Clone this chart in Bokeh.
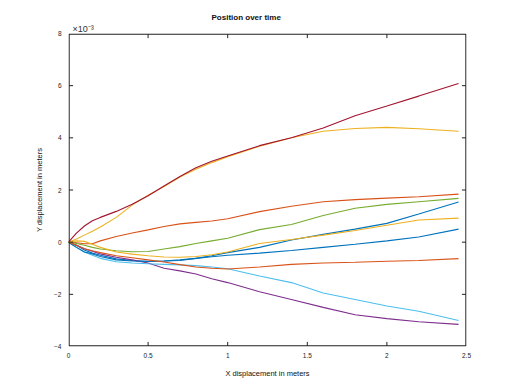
from bokeh.plotting import figure
from bokeh.models import LinearAxis, FixedTicker, Range1d, Title
from bokeh.embed import file_html
from bokeh.resources import INLINE

# X displacement (m), shared sample positions
x_m = [0, 0.05, 0.1, 0.15, 0.2, 0.3, 0.4, 0.5, 0.6, 0.7, 0.8, 0.9, 1.0, 1.2, 1.4, 1.6, 1.8, 2.0, 2.2, 2.45]

# Y displacement in units of 10^-3 m
y_blue1   = [0, -0.12, -0.3, -0.42, -0.5, -0.64, -0.7, -0.73, -0.72, -0.7, -0.62, -0.52, -0.4, -0.2, 0.08, 0.3, 0.5, 0.72, 1.08, 1.54]
y_orange1 = [0, -0.02, -0.06, -0.06, 0.05, 0.22, 0.35, 0.47, 0.6, 0.7, 0.76, 0.81, 0.9, 1.17, 1.38, 1.55, 1.63, 1.69, 1.74, 1.84]
y_yellow1 = [0, 0.12, 0.27, 0.42, 0.58, 0.95, 1.42, 1.8, 2.13, 2.5, 2.8, 3.05, 3.28, 3.68, 4.0, 4.25, 4.36, 4.4, 4.35, 4.25]
y_purple  = [0, -0.12, -0.25, -0.35, -0.45, -0.58, -0.68, -0.8, -1.0, -1.1, -1.22, -1.4, -1.55, -1.9, -2.2, -2.5, -2.78, -2.93, -3.05, -3.15]
y_green   = [0, -0.05, -0.12, -0.2, -0.26, -0.33, -0.37, -0.36, -0.26, -0.17, -0.05, 0.05, 0.15, 0.48, 0.68, 1.02, 1.3, 1.45, 1.55, 1.68]
y_cyan    = [0, -0.2, -0.38, -0.5, -0.62, -0.75, -0.8, -0.83, -0.85, -0.87, -0.9, -0.95, -1.02, -1.3, -1.55, -1.95, -2.2, -2.45, -2.65, -3.0]
y_darkred = [0, 0.35, 0.62, 0.82, 0.95, 1.18, 1.45, 1.78, 2.15, 2.52, 2.85, 3.1, 3.3, 3.7, 4.0, 4.38, 4.85, 5.22, 5.6, 6.08]
y_blue2   = [0, -0.2, -0.38, -0.45, -0.55, -0.68, -0.72, -0.74, -0.72, -0.68, -0.62, -0.56, -0.5, -0.42, -0.32, -0.2, -0.08, 0.05, 0.2, 0.5]
y_orange2 = [0, -0.12, -0.25, -0.33, -0.4, -0.52, -0.6, -0.68, -0.76, -0.86, -0.95, -1.0, -1.03, -0.95, -0.85, -0.8, -0.77, -0.73, -0.7, -0.63]
y_yellow2 = [0, 0.05, 0.03, -0.08, -0.2, -0.38, -0.46, -0.52, -0.57, -0.58, -0.55, -0.48, -0.38, -0.05, 0.1, 0.27, 0.45, 0.65, 0.85, 0.92]

series = [y_blue1, y_orange1, y_yellow1, y_purple, y_green, y_cyan, y_darkred, y_blue2, y_orange2, y_yellow2]
colors = ["#0072BD", "#D95319", "#EDB120", "#7E2F8E", "#77AC30", "#4DBEEE", "#A2142F", "#0072BD", "#D95319", "#EDB120"]

x_ticks = [0, 0.5, 1, 1.5, 2, 2.5]
y_ticks = [-4, -2, 0, 2, 4, 6, 8]

title_text = "Position over time"
scale_text = "×10⁻³"
xlabel_text = "X displacement in meters"
ylabel_text = "Y displacement in meters"

FONT = "Liberation Sans"
FW, FH = 398, 313
X0, X1 = x_ticks[0], x_ticks[-1]
Y0, Y1 = y_ticks[0], y_ticks[-1]
INK = "#222222"
px_x = (X1 - X0) / FW   # one screen pixel in x data units
px_y = (Y1 - Y0) / FH   # one screen pixel in y data units

p = figure(frame_width=FW, frame_height=FH,
           x_range=Range1d(X0, X1), y_range=Range1d(Y0, Y1),
           output_backend="svg", toolbar_location=None,
           min_border_left=68, min_border_top=33, min_border_right=38, min_border_bottom=40,
           background_fill_color=None, border_fill_color=None)
p.outline_line_color = None
p.grid.visible = False
p.xaxis.visible = False
p.yaxis.visible = False

for ys, c in zip(series, colors):
    p.line(x_m, ys, line_color=c, line_width=1.1)

# axes box, drawn just inside the frame
bx0, bx1 = X0 + 0.6 * px_x, X1 - 0.6 * px_x
by0, by1 = Y0 + 0.6 * px_y, Y1 - 0.6 * px_y
p.line([bx0, bx1, bx1, bx0, bx0], [by0, by0, by1, by1, by0], line_color=INK, line_width=1.2)

# inward ticks on all four sides
tick_xs, tick_ys = [], []
for t in x_ticks[1:-1]:
    tick_xs += [[t, t], [t, t]]
    tick_ys += [[by0, by0 + 4 * px_y], [by1, by1 - 4 * px_y]]
for t in y_ticks[1:-1]:
    tick_xs += [[bx0, bx0 + 4 * px_x], [bx1, bx1 - 4 * px_x]]
    tick_ys += [[t, t], [t, t]]
p.multi_line(tick_xs, tick_ys, line_color=INK, line_width=1)

def style(ax):
    ax.axis_line_color = None
    ax.major_tick_line_color = None
    ax.minor_tick_line_color = None
    ax.major_tick_in = 0
    ax.major_tick_out = 0
    ax.major_label_text_font = FONT
    ax.major_label_text_font_size = "6.5px"
    ax.major_label_text_color = INK

xb = LinearAxis(ticker=FixedTicker(ticks=x_ticks), axis_label=xlabel_text); style(xb)
xb.major_label_standoff = 6
xb.axis_label_standoff = 8
xb.axis_label_text_font = FONT
xb.axis_label_text_font_size = "7.5px"
xb.axis_label_text_font_style = "normal"
xb.axis_label_text_color = "#111111"

yl = LinearAxis(ticker=FixedTicker(ticks=y_ticks), axis_label=ylabel_text); style(yl)
yl.major_label_standoff = 7
yl.axis_label_standoff = 7
yl.axis_label_text_font = FONT
yl.axis_label_text_font_size = "7.5px"
yl.axis_label_text_font_style = "normal"
yl.axis_label_text_color = "#111111"

p.add_layout(xb, "below")
p.add_layout(yl, "left")

p.add_layout(Title(text=scale_text, align="left", offset=4, standoff=0,
                   text_font=FONT, text_font_size="9px", text_font_style="normal",
                   text_color="#333333"), "above")
p.title.text = title_text
p.title.align = "left"
p.title.offset = 143
p.title.standoff = 0
p.title.text_font = FONT
p.title.text_font_size = "8px"
p.title.text_font_style = "bold"
p.title.text_color = "#111111"

open("out.html", "w").write(file_html(p, INLINE))
